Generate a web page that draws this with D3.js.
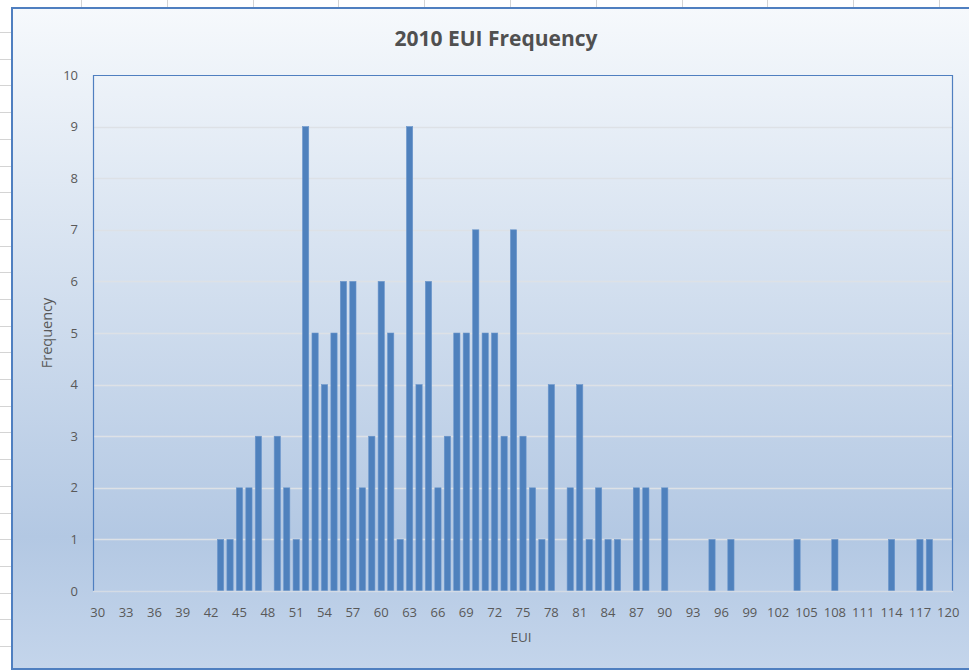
<!DOCTYPE html>
<html>
<head>
<meta charset="utf-8">
<script src="https://cdn.jsdelivr.net/npm/d3@7"></script>
<style>
  html, body { margin: 0; padding: 0; background: #fff; }
  svg { display: block; }
  text { font-family: "Open Sans", "Liberation Sans", sans-serif; fill: #595959; }
</style>
</head>
<body>
<div id="chart"></div>
<script>
// EUI bins 30..120 and how many buildings fell in each
var euiBins = [30,31,32,33,34,35,36,37,38,39,40,41,42,43,44,45,46,47,48,49,
  50,51,52,53,54,55,56,57,58,59,60,61,62,63,64,65,66,67,68,69,
  70,71,72,73,74,75,76,77,78,79,80,81,82,83,84,85,86,87,88,89,
  90,91,92,93,94,95,96,97,98,99,100,101,102,103,104,105,106,107,108,109,
  110,111,112,113,114,115,116,117,118,119,120];
var frequency = [0,0,0,0,0,0,0,0,0,0,0,0,0,1,1,2,2,3,0,3,
  2,1,9,5,4,5,6,6,2,3,6,5,1,9,4,6,2,3,5,5,
  7,5,5,3,7,3,2,1,4,0,2,4,1,2,1,1,0,2,2,0,
  2,0,0,0,0,1,0,1,0,0,0,0,0,0,1,0,0,0,1,0,
  0,0,0,0,1,0,0,1,1,0,0];
var xTickLabels = [30,33,36,39,42,45,48,51,54,57,60,63,66,69,72,75,78,81,84,87,90,93,96,99,102,105,108,111,114,117,120];
var yTicks = [0,1,2,3,4,5,6,7,8,9,10];

var W = 969, H = 671;
var svg = d3.select("#chart").append("svg").attr("width", W).attr("height", H);

// spreadsheet cells behind the chart
var cells = svg.append("g").attr("stroke", "#d4d4d4").attr("stroke-width", 1);
for (var yy = 32; yy < H; yy += 26.7) {
  cells.append("line").attr("x1", 0).attr("x2", 12).attr("y1", Math.round(yy) + 0.5).attr("y2", Math.round(yy) + 0.5);
}
for (var xx = 81; xx < W; xx += 85.8) {
  cells.append("line").attr("x1", Math.round(xx) + 0.5).attr("x2", Math.round(xx) + 0.5).attr("y1", 0).attr("y2", 8);
}

var defs = svg.append("defs");
var grad = defs.append("linearGradient").attr("id", "bg").attr("x1", 0).attr("y1", 0).attr("x2", 0).attr("y2", 1);
grad.append("stop").attr("offset", "0%").attr("stop-color", "#f6f9fc");
grad.append("stop").attr("offset", "80%").attr("stop-color", "#b3c8e3");
grad.append("stop").attr("offset", "100%").attr("stop-color", "#c4d5eb");

// chart frame
svg.append("rect").attr("x", 12).attr("y", 8).attr("width", W + 10).attr("height", 661)
  .attr("fill", "url(#bg)").attr("stroke", "#4f7fc0").attr("stroke-width", 2);

var margin = {left: 93, top: 75, right: 953, bottom: 591};

var x = d3.scaleBand().domain(euiBins).range([margin.left, margin.right]).paddingInner(0.34).paddingOuter(0.17);
var y = d3.scaleLinear().domain([0, 10]).range([margin.bottom, margin.top]);

// gridlines
svg.append("g").selectAll("line").data(yTicks.slice(1, -1)).enter().append("line")
  .attr("x1", margin.left).attr("x2", margin.right)
  .attr("y1", function(d) { return Math.round(y(d)) + 0.5; })
  .attr("y2", function(d) { return Math.round(y(d)) + 0.5; })
  .attr("stroke", "#dde1e6").attr("stroke-width", 1.5);

// bars
svg.append("g").selectAll("rect").data(frequency).enter().append("rect")
  .attr("x", function(d, i) { return x(euiBins[i]); })
  .attr("width", x.bandwidth())
  .attr("y", function(d) { return y(d); })
  .attr("height", function(d) { return y(0) - y(d); })
  .attr("fill", "#4f81bd")
  .attr("stroke", "#6b96cc").attr("stroke-width", 0.6);

// plot border (blue left/top/right, grey bottom axis)
svg.append("path")
  .attr("d", "M" + (margin.left + 0.5) + "," + margin.bottom + "V" + (margin.top + 0.5) + "H" + (margin.right - 0.5) + "V" + margin.bottom)
  .attr("fill", "none").attr("stroke", "#4f7fc0").attr("stroke-width", 1.2);
svg.append("line").attr("x1", margin.left).attr("x2", margin.right)
  .attr("y1", margin.bottom + 0.5).attr("y2", margin.bottom + 0.5)
  .attr("stroke", "#d4dbe5").attr("stroke-width", 1.5);

// y tick labels
svg.append("g").selectAll("text").data(yTicks).enter().append("text")
  .attr("x", 78).attr("y", function(d) { return y(d); }).attr("dy", "0.35em")
  .attr("text-anchor", "end").style("font-size", "13px")
  .text(function(d) { return d; });

// x tick labels
svg.append("g").selectAll("text").data(xTickLabels).enter().append("text")
  .attr("x", function(d) { return x(d) + x.bandwidth() / 2; }).attr("y", 612).attr("dy", "0.35em")
  .attr("text-anchor", "middle").style("font-size", "13px")
  .text(function(d) { return d; });

// titles
svg.append("text").attr("x", 496).attr("y", 39).attr("dy", "0.35em").attr("text-anchor", "middle")
  .style("font-size", "21px").style("font-weight", "bold").style("fill", "#505050")
  .text("2010 EUI Frequency");
svg.append("text").attr("x", 521).attr("y", 637).attr("dy", "0.35em").attr("text-anchor", "middle")
  .style("font-size", "13.5px").text("EUI");
svg.append("text").attr("transform", "translate(47,333) rotate(-90)").attr("dy", "0.35em")
  .attr("text-anchor", "middle").style("font-size", "14.5px").text("Frequency");
</script>
</body>
</html>
